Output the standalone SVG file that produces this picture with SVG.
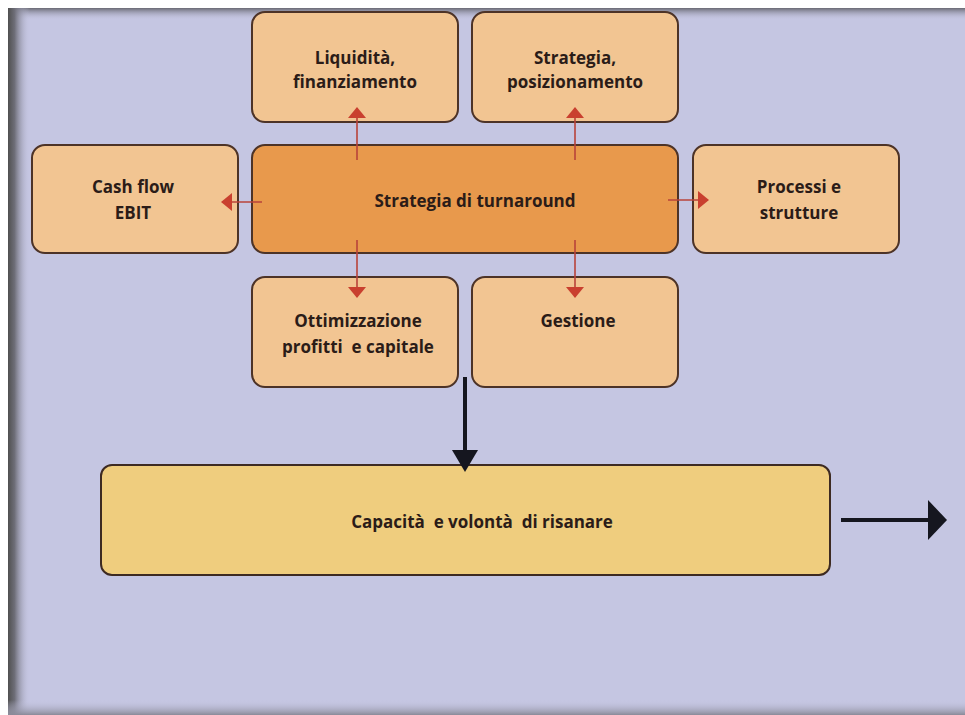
<svg xmlns="http://www.w3.org/2000/svg" width="965" height="715" viewBox="0 0 965 715">
  <defs>
    <style>
      .box { fill: #f2c592; stroke: #4d3327; stroke-width: 2; }
      .core { fill: #e8994c; stroke: #4d3327; stroke-width: 2; }
      .goal { fill: #efcd7e; stroke: #3d2a22; stroke-width: 2; }
      .lbl { font-family: "Open Sans", "Liberation Sans", sans-serif; font-weight: bold; font-size: 17px; fill: #2b1c18; text-anchor: middle; }
      .red { stroke: #b8433a; stroke-width: 1.6; fill: none; }
      .blk { stroke: #15161f; stroke-width: 4; fill: none; }
    </style>
    <marker id="redHead" viewBox="0 0 11 18" refX="10" refY="9" markerWidth="11" markerHeight="18" markerUnits="userSpaceOnUse" orient="auto">
      <path d="M0,0 L11,9 L0,18 Z" fill="#c9402f"/>
    </marker>
    <linearGradient id="leftShade" x1="0" y1="0" x2="1" y2="0">
      <stop offset="0" stop-color="#505050"/>
      <stop offset="0.3" stop-color="#6e6e78"/>
      <stop offset="1" stop-color="#c5c6e2" stop-opacity="0"/>
    </linearGradient>
    <linearGradient id="topShade" x1="0" y1="0" x2="0" y2="1">
      <stop offset="0" stop-color="#6a6a74"/>
      <stop offset="1" stop-color="#c5c6e2" stop-opacity="0"/>
    </linearGradient>
    <linearGradient id="bottomShade" x1="0" y1="0" x2="0" y2="1">
      <stop offset="0" stop-color="#c5c6e2" stop-opacity="0"/>
      <stop offset="1" stop-color="#8a8a98"/>
    </linearGradient>
  </defs>

  <!-- page frame -->
  <rect x="0" y="0" width="965" height="715" fill="#ffffff"/>
  <rect x="8" y="8" width="957" height="707" fill="#c5c6e2"/>
  <rect x="8" y="8" width="957" height="12" fill="url(#topShade)"/>
  <rect x="8" y="8" width="22" height="707" fill="url(#leftShade)"/>
  <rect x="8" y="700" width="957" height="15" fill="url(#bottomShade)"/>

  <g id="liquidita">
    <rect class="box" x="252" y="12" width="206" height="110" rx="13"/>
    <text class="lbl" x="355" y="64">Liquidità,</text>
    <text class="lbl" x="355" y="88">finanziamento</text>
  </g>

  <g id="posizionamento">
    <rect class="box" x="472" y="12" width="206" height="110" rx="13"/>
    <text class="lbl" x="575" y="64">Strategia,</text>
    <text class="lbl" x="575" y="88">posizionamento</text>
  </g>

  <g id="cashflow">
    <rect class="box" x="32" y="145" width="206" height="108" rx="13"/>
    <text class="lbl" x="133" y="193">Cash flow</text>
    <text class="lbl" x="133" y="219">EBIT</text>
  </g>

  <g id="turnaround">
    <rect class="core" x="252" y="145" width="426" height="108" rx="13"/>
    <text class="lbl" x="475" y="207">Strategia di turnaround</text>
  </g>

  <g id="processi">
    <rect class="box" x="693" y="145" width="206" height="108" rx="13"/>
    <text class="lbl" x="799" y="193">Processi e</text>
    <text class="lbl" x="799" y="219">strutture</text>
  </g>

  <g id="ottimizzazione">
    <rect class="box" x="252" y="277" width="206" height="110" rx="13"/>
    <text class="lbl" x="358" y="327">Ottimizzazione</text>
    <text class="lbl" x="358" y="353" xml:space="preserve">profitti  e capitale</text>
  </g>

  <g id="gestione">
    <rect class="box" x="472" y="277" width="206" height="110" rx="13"/>
    <text class="lbl" x="578" y="327">Gestione</text>
  </g>

  <g id="risanare">
    <rect class="goal" x="101" y="465" width="729" height="110" rx="11"/>
    <text class="lbl" x="482" y="528" xml:space="preserve">Capacità  e volontà  di risanare</text>
  </g>

  <!-- connectors, drawn over the boxes -->
  <g id="connectors">
    <line class="red" x1="357" y1="160" x2="357" y2="108" marker-end="url(#redHead)"/>
    <line class="red" x1="575" y1="160" x2="575" y2="108" marker-end="url(#redHead)"/>
    <line class="red" x1="262" y1="202" x2="222" y2="202" marker-end="url(#redHead)"/>
    <line class="red" x1="668" y1="200" x2="708" y2="200" marker-end="url(#redHead)"/>
    <line class="red" x1="357" y1="240" x2="357" y2="297" marker-end="url(#redHead)"/>
    <line class="red" x1="575" y1="240" x2="575" y2="297" marker-end="url(#redHead)"/>
    <line class="blk" x1="465" y1="377" x2="465" y2="452"/>
    <path d="M452,450 L478,450 L465,472 Z" fill="#15161f"/>
    <line class="blk" x1="841" y1="520" x2="930" y2="520"/>
    <path d="M928,500 L947,520 L928,540 Z" fill="#15161f"/>
  </g>
</svg>
